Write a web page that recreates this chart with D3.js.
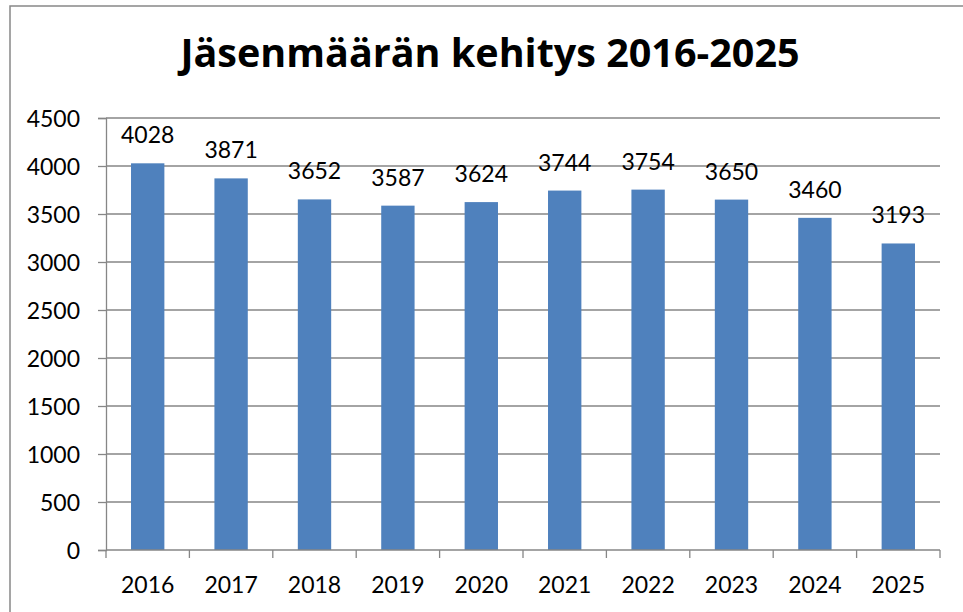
<!DOCTYPE html>
<html>
<head>
<meta charset="utf-8">
<script src="https://cdn.jsdelivr.net/npm/d3@7"></script>
<style>
  body { margin: 0; background: #fff; }
  text { font-family: Lato, "Open Sans", sans-serif; fill: #000; }
</style>
</head>
<body>
<svg id="chart"></svg>
<script>
const years = ['2016', '2017', '2018', '2019', '2020', '2021', '2022', '2023', '2024', '2025'];
const members = [4028, 3871, 3652, 3587, 3624, 3744, 3754, 3650, 3460, 3193];
const yTicks = [0, 500, 1000, 1500, 2000, 2500, 3000, 3500, 4000, 4500];
const title = 'Jäsenmäärän kehitys 2016-2025';

const W = 963, H = 612;
const margin = { top: 118, right: 23, bottom: 62, left: 106 };
const width = W - margin.left - margin.right;
const height = H - margin.top - margin.bottom;

const svg = d3.select('#chart').attr('width', W).attr('height', H);

// chart frame (runs off the right and bottom edges)
svg.append('rect')
  .attr('x', 10).attr('y', 6)
  .attr('width', 980).attr('height', 640)
  .attr('fill', 'none').attr('stroke', '#888').attr('stroke-width', 1.5);

svg.append('text')
  .attr('x', 490).attr('y', 67)
  .attr('text-anchor', 'middle')
  .style('font-family', '"Open Sans", sans-serif')
  .style('font-size', '39.5px').style('font-weight', 'bold')
  .text(title);

const g = svg.append('g').attr('transform', `translate(${margin.left},${margin.top})`);

const x = d3.scaleBand().domain(years).range([0, width]).paddingInner(0.6).paddingOuter(0.3);
const y = d3.scaleLinear().domain([0, 4500]).range([height, 0]);

// gridlines + y axis
const yaxis = d3.axisLeft(y).tickValues(yTicks).tickFormat(d3.format('d')).tickSize(8).tickPadding(18);
const gy = g.append('g').call(yaxis);
gy.select('.domain').attr('stroke', '#868686').attr('stroke-width', 1.3);
gy.selectAll('.tick line').attr('stroke', '#868686').attr('stroke-width', 1.3);
gy.selectAll('.tick text').style('font-size', '23px').attr('dy', '0.36em');

g.append('g').selectAll('line').data(yTicks.filter((d) => d > 0)).join('line')
  .attr('x1', 0).attr('x2', width)
  .attr('y1', (d) => y(d)).attr('y2', (d) => y(d))
  .attr('stroke', '#868686').attr('stroke-width', 1.3);

// bars
g.append('g').selectAll('rect').data(members).join('rect')
  .attr('x', (d, i) => x(years[i]))
  .attr('y', (d) => y(d))
  .attr('width', x.bandwidth())
  .attr('height', (d) => height - y(d))
  .attr('fill', '#4F81BD');

// value labels
g.append('g').selectAll('text').data(members).join('text')
  .attr('x', (d, i) => x(years[i]) + x.bandwidth() / 2)
  .attr('y', (d) => y(d) - 20)
  .attr('text-anchor', 'middle')
  .style('font-size', '23px')
  .text((d) => d);

// x axis: ticks at category boundaries
const step = width / years.length;
const gx = g.append('g').attr('transform', `translate(0,${height})`);
gx.append('line').attr('x1', 0).attr('x2', width)
  .attr('stroke', '#868686').attr('stroke-width', 1.3);
gx.selectAll('line.tk').data(d3.range(years.length + 1)).join('line')
  .attr('class', 'tk')
  .attr('x1', (d) => d * step).attr('x2', (d) => d * step)
  .attr('y1', 0).attr('y2', 8)
  .attr('stroke', '#868686').attr('stroke-width', 1.3);
gx.selectAll('text').data(years).join('text')
  .attr('x', (d) => x(d) + x.bandwidth() / 2)
  .attr('y', 43)
  .attr('text-anchor', 'middle')
  .style('font-size', '23px')
  .text((d) => d);
</script>
</body>
</html>
